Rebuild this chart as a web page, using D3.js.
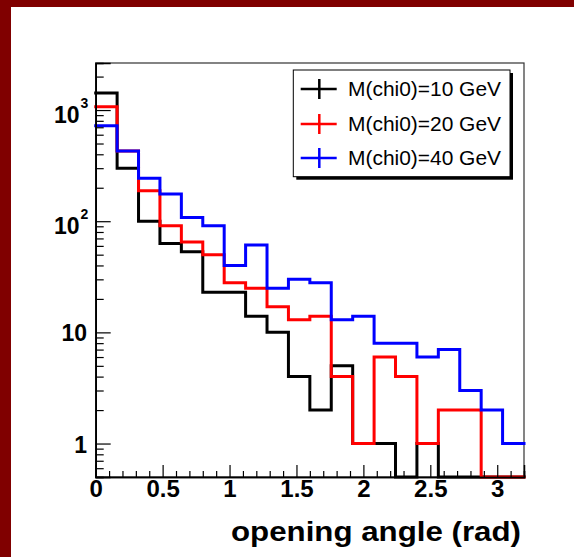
<!DOCTYPE html>
<html><head><meta charset="utf-8">
<script src="https://cdn.jsdelivr.net/npm/d3@7"></script>
<style>
html,body{margin:0;padding:0;background:#fff;}
svg{display:block;}
text{font-family:"Liberation Sans",Arial,Helvetica,sans-serif;}
</style></head>
<body>
<svg id="chart" width="574" height="557"></svg>
<script>
// ---- data ----
const binEdges = [0,0.16,0.32,0.48,0.64,0.8,0.96,1.12,1.28,1.44,1.6,1.76,1.92,2.08,2.24,2.4,2.56,2.72,2.88,3.04,3.2];
const seriesNames = ["M(chi0)=10 GeV","M(chi0)=20 GeV","M(chi0)=40 GeV"];
const seriesColors = ["#000000","#ff0000","#0000ff"];
const mass10 = [1420,300,100,63,53,23,23,14,10,4,2,5,1,1,0,1,0,0,0,0];
const mass20 = [1073,429,188,91,65,50,28,25,17,13,14,4,1,6,4,1,2,2,0,0];
const mass40 = [724,429,244,176,108,91,40,61,25,30,28,13,14,8,8,6,7,3,2,1];
const xTickValues = [0,0.5,1,1.5,2,2.5,3];
const xTickLabels = ["0","0.5","1","1.5","2","2.5","3"];
const yTickValues = [1,10,100,1000];
const yTickBase = ["1","10","10","10"];
const yTickExp = ["","","2","3"];
const xTitle = "opening angle (rad)";

// ---- layout ----
const svg = d3.select("#chart");
const L = 95.7, R = 524, T = 63, B = 477;
const x = d3.scaleLinear().domain([0,3.2]).range([L,R]);
const y = d3.scaleLog().domain([0.5,2650]).range([B,T]);

// page decoration
svg.append("rect").attr("x",0).attr("y",0).attr("width",574).attr("height",7).attr("fill","#800000");
svg.append("rect").attr("x",0).attr("y",0).attr("width",11).attr("height",557).attr("fill","#800000");

// frame
svg.append("rect").attr("x",L).attr("y",T).attr("width",R-L).attr("height",B-T)
  .attr("fill","none").attr("stroke","#333").attr("stroke-width",1.2);

// histograms
const allSeries = [mass10, mass20, mass40];
allSeries.forEach((vals,si)=>{
  const pts = [];
  vals.forEach((v,i)=>{
    const yy = v>0 ? y(v) : B;
    pts.push([x(binEdges[i]), yy]);
    pts.push([x(binEdges[i+1]), yy]);
  });
  svg.append("path").attr("d", d3.line()(pts))
    .attr("fill","none").attr("stroke",seriesColors[si]).attr("stroke-width",3)
    .attr("stroke-linejoin","miter").attr("stroke-linecap","square");
});

// x axis
const minorX = d3.range(0,33).map(i=>i/10).filter(v=>v<=3.2 && Math.abs(v*2-Math.round(v*2))>1e-6);
const gxMinor = svg.append("g").attr("transform",`translate(0,${B})`)
  .call(d3.axisBottom(x).tickValues(minorX).tickSize(-6).tickFormat(""));
const gx = svg.append("g").attr("transform",`translate(0,${B})`)
  .call(d3.axisBottom(x).tickValues(xTickValues).tickSize(-12).tickPadding(3)
        .tickFormat((d,i)=>xTickLabels[i]));
[gx,gxMinor].forEach(g=>{
  g.select(".domain").attr("stroke","#000").attr("stroke-width",1.5);
  g.selectAll(".tick line").attr("stroke","#000").attr("stroke-width",1.2);
});
gx.selectAll(".tick text").attr("font-size",24).attr("font-weight","bold").attr("fill","#000")
  .attr("font-family","'Liberation Sans',Arial,sans-serif");

// y axis
const minorY = [];
[0.1,1,10,100,1000].forEach(d=>{ for(let k=2;k<=9;k++){ const v=d*k; if(v>=0.5 && v<=2650) minorY.push(v);} });
const gyMinor = svg.append("g").attr("transform",`translate(${L},0)`)
  .call(d3.axisLeft(y).tickValues(minorY).tickSize(-8).tickFormat(""));
const gy = svg.append("g").attr("transform",`translate(${L},0)`)
  .call(d3.axisLeft(y).tickValues(yTickValues).tickSize(-15).tickFormat(""));
[gy,gyMinor].forEach(g=>{
  g.select(".domain").attr("stroke","#000").attr("stroke-width",1.5);
  g.selectAll(".tick line").attr("stroke","#000").attr("stroke-width",1.2);
});
// y labels (with superscripts)
yTickValues.forEach((v,i)=>{
  const yy = y(v);
  if (yTickExp[i]==="") {
    svg.append("text").attr("x",87).attr("y",yy+9).attr("text-anchor","end")
      .attr("font-size",23).attr("font-weight","bold").text(yTickBase[i]);
  } else {
    svg.append("text").attr("x",79.5).attr("y",yy+13).attr("text-anchor","end")
      .attr("font-size",23).attr("font-weight","bold").text(yTickBase[i]);
    svg.append("text").attr("x",80.5).attr("y",yy-2).attr("text-anchor","start")
      .attr("font-size",14).attr("font-weight","bold").text(yTickExp[i]);
  }
});

// x title
svg.append("text").attr("x",521).attr("y",541).attr("text-anchor","end")
  .attr("font-size",27).attr("font-weight","bold")
  .attr("textLength",290).attr("lengthAdjust","spacingAndGlyphs").text(xTitle);

// legend
const lg = {x:293.3, y:70, w:216.7, h:106.7};
svg.append("rect").attr("x",lg.x+3).attr("y",lg.y+3).attr("width",lg.w).attr("height",lg.h).attr("fill","#000");
svg.append("rect").attr("x",lg.x).attr("y",lg.y).attr("width",lg.w).attr("height",lg.h)
  .attr("fill","#fff").attr("stroke","#000").attr("stroke-width",1);
const rowY = [89,124,158];
seriesNames.forEach((name,i)=>{
  const cy = rowY[i];
  svg.append("line").attr("x1",300.7).attr("x2",336.7).attr("y1",cy).attr("y2",cy)
    .attr("stroke",seriesColors[i]).attr("stroke-width",2.5);
  svg.append("line").attr("x1",319.3).attr("x2",319.3).attr("y1",cy-10).attr("y2",cy+10)
    .attr("stroke",seriesColors[i]).attr("stroke-width",2.5);
  svg.append("text").attr("x",348).attr("y",cy+7).attr("font-size",20)
    .attr("textLength",153).attr("lengthAdjust","spacingAndGlyphs").text(name);
});
</script>
</body></html>
